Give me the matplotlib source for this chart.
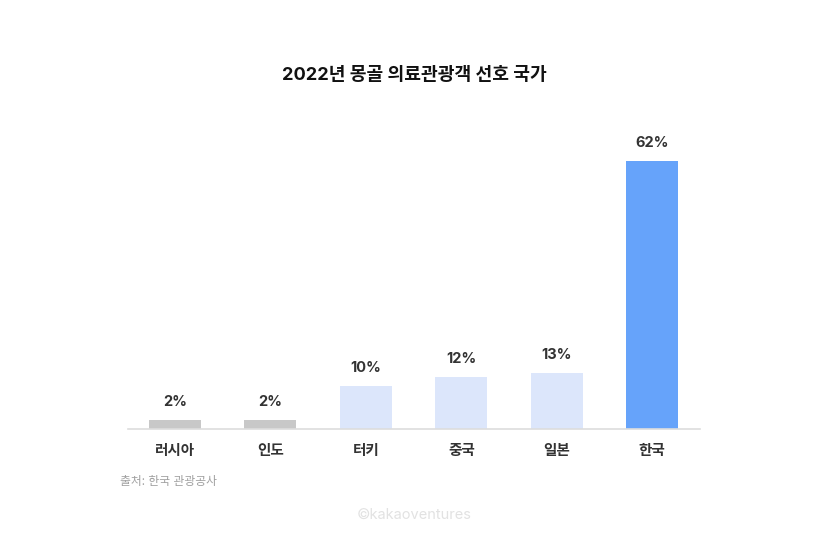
import matplotlib
matplotlib.use("Agg")
import matplotlib.pyplot as plt

plt.rcParams['font.family'] = ['Inter', 'Noto Sans CJK KR', 'DejaVu Sans']

categories = ['러시아', '인도', '터키', '중국', '일본', '한국']
values = [2, 2, 10, 12, 13, 62]
labels = ['2%', '2%', '10%', '12%', '13%', '62%']
colors = ['#c8c8c8', '#c8c8c8', '#dce6fb', '#dce6fb', '#dce6fb', '#66a3fa']

W, H = 828, 547
fig = plt.figure(figsize=(W / 100, H / 100), dpi=100)
fig.patch.set_facecolor('white')

ax_left, ax_right = 128, 700
ax_bottom, ax_top = 429, 129
ax = fig.add_axes([ax_left / W, (H - ax_bottom) / H, (ax_right - ax_left) / W, (ax_bottom - ax_top) / H])

x = list(range(len(categories)))
ax.bar(x, values, width=0.545, color=colors, zorder=2)
ax.set_xlim(-0.49, 5.5)
ax.set_ylim(0, 300 / 4.32)

for xi, v, lab in zip(x, values, labels):
    ax.annotate(lab, (xi, v), xytext=(0, 8), textcoords='offset points',
                ha='center', va='bottom', fontsize=10.5, fontweight='bold', color='#333333')

for s in ['top', 'right', 'left']:
    ax.spines[s].set_visible(False)
ax.spines['bottom'].set_color('#dddddd')
ax.spines['bottom'].set_linewidth(1.2)
ax.set_yticks([])
ax.set_xticks(x)
ax.set_xticklabels(categories, fontsize=10.5, fontweight='bold', color='#333333')
ax.tick_params(axis='x', length=0, pad=11)

fig.text(414 / W, 1 - 75 / H, '2022년 몽골 의료관광객 선호 국가', ha='center', va='center',
         fontsize=13.1, fontweight='bold', color='#111111')
fig.text(120 / W, 1 - 482 / H, '출처: 한국 관광공사', ha='left', va='center',
         fontsize=8.5, color='#a0a0a0')
fig.text(414 / W, 1 - 515 / H, '©kakaoventures', ha='center', va='center',
         fontsize=10.5, color='#e2e2e2')

fig.savefig('out.png', dpi=100, facecolor='white')
